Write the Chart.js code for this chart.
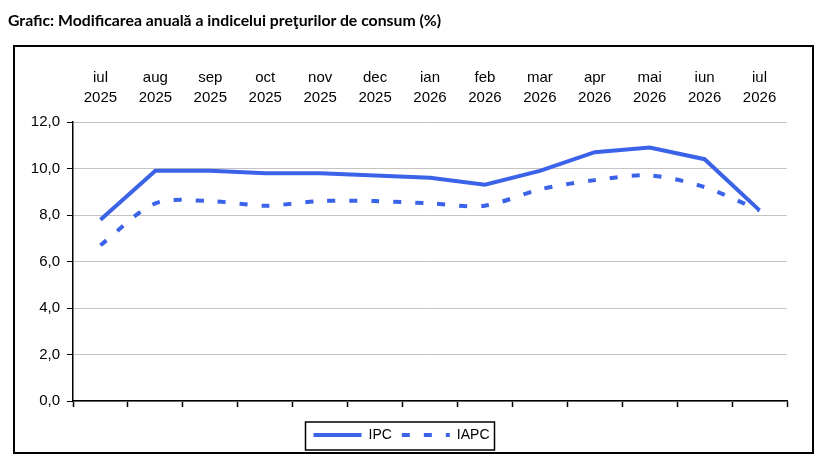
<!DOCTYPE html>
<html>
<head>
<meta charset="utf-8">
<script src="https://cdn.jsdelivr.net/npm/chart.js@4"></script>
<style>
  body { margin: 0; background: #fff; }
  #wrap { position: relative; width: 831px; height: 456px; }
  #title { position: absolute; left: 8px; top: 10px; font: 700 15.8px Lato, "Open Sans", sans-serif; color: #000; }
  #frame { position: absolute; left: 13px; top: 45px; width: 801px; height: 409px; border: 2px solid #000; box-sizing: border-box; pointer-events: none; }
  canvas { position: absolute; left: 0; top: 0; }
</style>
</head>
<body>
<div id="wrap">
  <canvas id="cpiChart" width="831" height="456"></canvas>
  <div id="frame"></div>
  <div id="title">Grafic: Modificarea anuală a indicelui preţurilor de consum (%)</div>
</div>
<script>
const months = ["iul", "aug", "sep", "oct", "nov", "dec", "ian", "feb", "mar", "apr", "mai", "iun", "iul"];
const years = ["2025", "2025", "2025", "2025", "2025", "2025", "2026", "2026", "2026", "2026", "2026", "2026", "2026"];
const ipc = [7.8, 9.9, 9.9, 9.8, 9.8, 9.7, 9.6, 9.3, 9.9, 10.7, 10.9, 10.4, 8.2];
const iapc = [6.7, 8.5, 8.6, 8.4, 8.6, 8.6, 8.5, 8.4, 9.1, 9.5, 9.7, 9.2, 8.2];
const yTicks = [0, 2, 4, 6, 8, 10, 12];

const labels = months.map((m, i) => [m, years[i]]);
const blue = "#3B63E8";
const arial = "'Liberation Sans', Arial, sans-serif";

// border around the legend items
const legendBox = {
  id: "legendBox",
  afterDraw(chart) {
    const boxes = chart.legend.legendHitBoxes;
    if (!boxes.length) return;
    const left = Math.min(...boxes.map(b => b.left)) - 8;
    const right = Math.max(...boxes.map(b => b.left + b.width)) + 5;
    const top = boxes[0].top - 6;
    const bottom = boxes[0].top + boxes[0].height + 8;
    const ctx = chart.ctx;
    ctx.save();
    ctx.strokeStyle = "#000";
    ctx.lineWidth = 1.5;
    ctx.strokeRect(left, top, right - left, bottom - top);
    ctx.restore();
  }
};

const ctx = document.getElementById("cpiChart").getContext("2d");
new Chart(ctx, {
  type: "line",
  data: {
    labels,
    datasets: [
      {
        label: "IPC",
        data: ipc,
        borderColor: blue,
        backgroundColor: blue,
        borderWidth: 4,
        pointRadius: 0,
        tension: 0,
        xAxisID: "x"
      },
      {
        label: "IAPC",
        data: iapc,
        borderColor: blue,
        backgroundColor: blue,
        borderWidth: 4,
        borderDash: [8, 14],
        pointRadius: 0,
        tension: 0.3,
        xAxisID: "x"
      }
    ]
  },
  options: {
    responsive: false,
    animation: false,
    layout: { padding: { left: 16, right: 44, top: 50, bottom: 4 } },
    plugins: {
      legend: {
        position: "bottom",
        labels: {
          usePointStyle: true,
          pointStyle: "line",
          pointStyleWidth: 48,
          padding: 10,
          color: "#000",
          font: { family: arial, size: 14 },
          generateLabels(chart) {
            const items = Chart.defaults.plugins.legend.labels.generateLabels(chart);
            items.forEach(it => {
              const ds = chart.data.datasets[it.datasetIndex];
              it.lineDash = ds.borderDash || [];
              it.lineWidth = ds.borderWidth;
              it.strokeStyle = ds.borderColor;
            });
            return items;
          }
        }
      },
      tooltip: { enabled: false }
    },
    scales: {
      xTop: {
        type: "category",
        position: "top",
        labels,
        offset: true,
        grid: { display: false, drawTicks: false },
        border: { display: false },
        ticks: { color: "#000", font: { family: arial, size: 15, lineHeight: 1.33 }, padding: 14, maxRotation: 0, autoSkip: false },
        afterFit(scale) { scale.height = 72; }
      },
      x: {
        type: "category",
        position: "bottom",
        offset: true,
        grid: { offset: true, drawOnChartArea: false, tickLength: 6, tickColor: "#000", tickWidth: 1.5 },
        border: { color: "#000", width: 1.5 },
        ticks: { display: false },
        afterFit(scale) { scale.height = 17; }
      },
      y: {
        min: 0,
        max: 12,
        afterBuildTicks(scale) { scale.ticks = yTicks.map(v => ({ value: v })); },
        grid: { color: "#c4c4c4", lineWidth: 1, tickLength: 6, tickColor: "#000" },
        border: { color: "#000", width: 1.5 },
        ticks: {
          color: "#000",
          font: { family: arial, size: 15 },
          padding: 7,
          callback: v => v.toFixed(1).replace(".", ",")
        },
        afterFit(scale) { scale.width = 57; }
      }
    }
  },
  plugins: [legendBox]
});
</script>
</body>
</html>
